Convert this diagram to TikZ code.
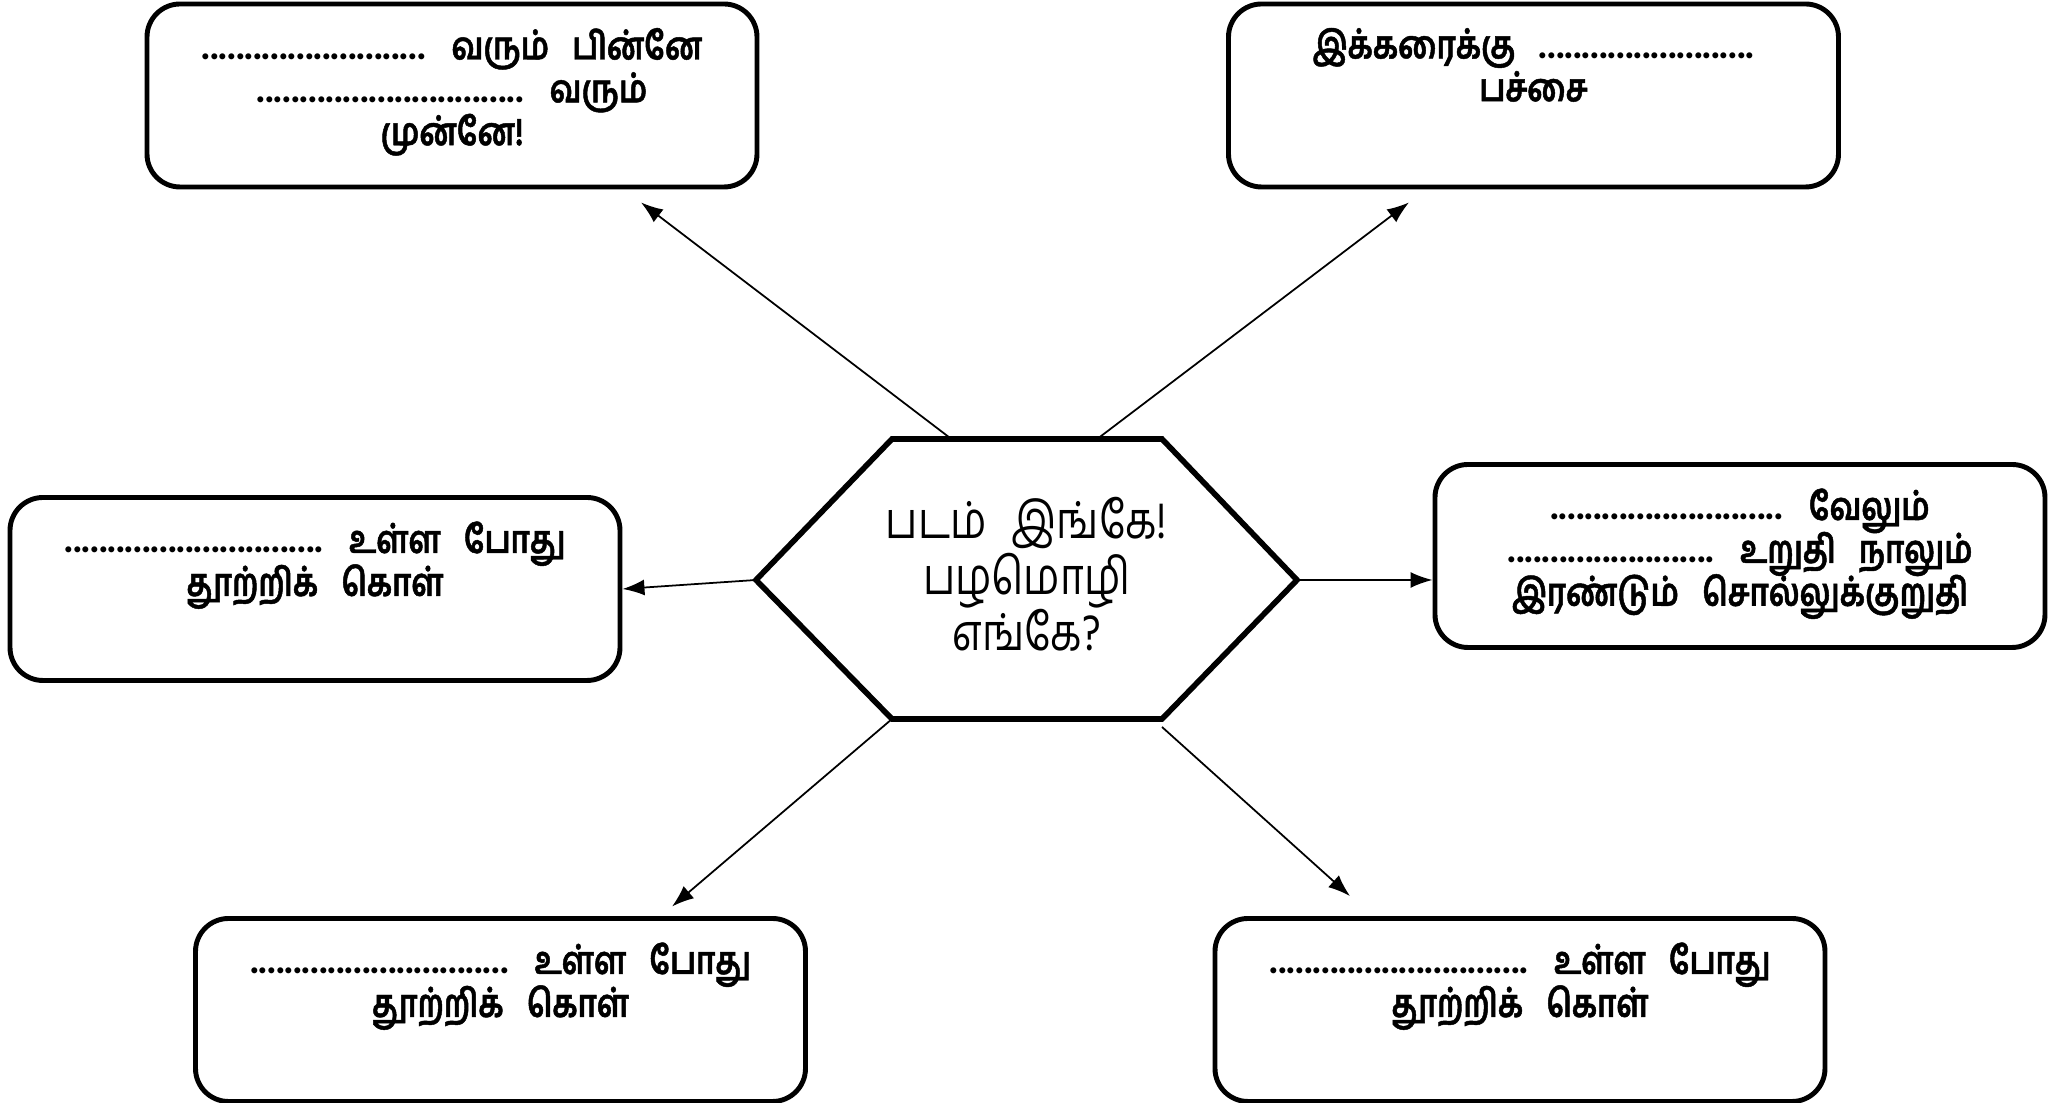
\documentclass[tikz,border=0pt]{standalone}
\usepackage{fontspec}
\setmainfont[Script=Tamil, FakeStretch=0.8, BoldFeatures={FakeBold=1.2}]{Hind Madurai}
\newfontfamily\dotfont{Hind Madurai}
\usetikzlibrary{arrows.meta,calc}

\newcommand{\boxtext}[1]{\parbox[c][1.83cm][t]{5.9cm}{\centering\bfseries\fontsize{11}{12.2}\selectfont\lineskiplimit=-\maxdimen\spaceskip=0.6em\relax\vspace*{0.24cm}#1}}

\begin{document}
\begin{tikzpicture}[proverb/.style={draw, line width=1.4pt, rounded corners=0.33cm, minimum width=6.1cm, minimum height=1.83cm, inner sep=0pt},
    pointer/.style={-{Latex[length=2.2mm,width=1.6mm]}, line width=0.5pt}]
    \useasboundingbox (0,0) rectangle (20.54,11.03);

    %Hexagon
    \coordinate (h1) at (7.56,5.23);
    \coordinate (h2) at (8.92,6.64);
    \coordinate (h3) at (11.62,6.64);
    \coordinate (h4) at (12.97,5.23);
    \coordinate (h5) at (11.62,3.84);
    \coordinate (h6) at (8.92,3.84);
    \draw[line width=1.6pt, line join=miter] (h1) -- (h2) -- (h3) -- (h4) -- (h5) -- (h6) -- cycle;
    \node[align=center, font=\fontsize{14.5}{16}\selectfont] (hex) at (10.265,5.29) {படம்\hspace{0.3em} இங்கே!\\ பழமொழி\\ எங்கே?};

    %Nodes
    \node[proverb] (tl) at (4.52,10.075) {\boxtext{{\dotfont ..........................} வரும் பின்னே\\ {\dotfont ...............................} வரும்\\ முன்னே!}};
    \node[proverb] (tr) at (15.335,10.075) {\boxtext{இக்கரைக்கு {\dotfont .........................}\\ பச்சை}};
    \node[proverb] (lf) at (3.15,5.14) {\boxtext{{\dotfont ..............................} உள்ள போது\\ தூற்றிக் கொள்}};
    \node[proverb] (rt) at (17.40,5.47) {\boxtext{{\dotfont ...........................} வேலும்\\ {\dotfont ........................} உறுதி நாலும்\\ இரண்டும் சொல்லுக்குறுதி}};
    \node[proverb] (bl) at (5.005,0.93) {\boxtext{{\dotfont ..............................} உள்ள போது\\ தூற்றிக் கொள்}};
    \node[proverb] (br) at (15.2,0.93) {\boxtext{{\dotfont ..............................} உள்ள போது\\ தூற்றிக் கொள்}};

    %Arrow ends
    \coordinate (s1) at ($(h2)!0.22!(h3)$);
    \coordinate (s2) at ($(h2)!0.76!(h3)$);
    \coordinate (e1) at ([xshift=1.89cm, yshift=-0.13cm]tl.south);
    \coordinate (e2) at ([xshift=-1.245cm, yshift=-0.13cm]tr.south);
    \coordinate (e4) at (rt.west |- h4);
    \coordinate (e5) at ([xshift=1.715cm, yshift=0.095cm]bl.north);
    \coordinate (e6) at ([xshift=-1.70cm, yshift=0.2cm]br.north);

    %Lines
    \draw[pointer] (s1) -- (e1);
    \draw[pointer] (s2) -- (e2);
    \draw[pointer] (h1) -- (lf.east);
    \draw[pointer] (h4) -- (e4);
    \draw[pointer] (h6) -- (e5);
    \draw[pointer] ([yshift=-0.08cm]h5) -- (e6);
\end{tikzpicture}
\end{document}
